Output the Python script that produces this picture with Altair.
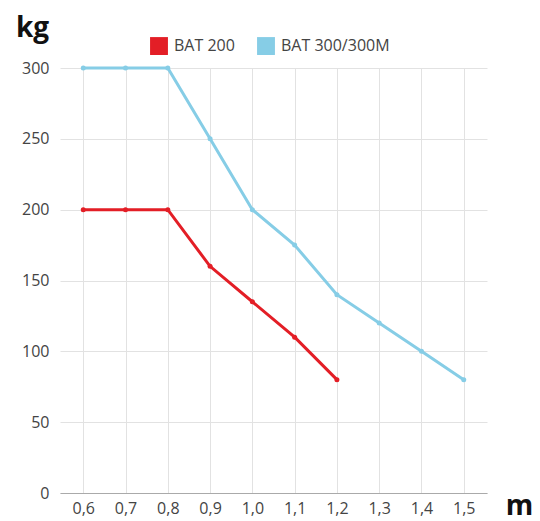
import altair as alt
import pandas as pd

x_labels = ["0,6", "0,7", "0,8", "0,9", "1,0", "1,1", "1,2", "1,3", "1,4", "1,5"]
series_names = ["BAT 200", "BAT 300/300M"]
bat200 = [200, 200, 200, 160, 135, 110, 80]
bat300 = [300, 300, 300, 250, 200, 175, 140, 120, 100, 80]
colors = ["#e31e26", "#86cde6"]

rows = []
for i, v in enumerate(bat200):
    rows.append({"x": x_labels[i], "kg": v, "serie": series_names[0]})
for i, v in enumerate(bat300):
    rows.append({"x": x_labels[i], "kg": v, "serie": series_names[1]})
df = pd.DataFrame(rows)

FONT = "Open Sans"

x_enc = alt.X(
    "x:O",
    sort=x_labels,
    scale=alt.Scale(type="point", padding=0.55),
    axis=alt.Axis(
        title="m",
        titleFontSize=28,
        titleFontWeight="bold",
        titleColor="#111",
        titleX=459,
        titleY=21,
        titleAlign="center",
        titleBaseline="alphabetic",
        labelAngle=0,
        labelFontSize=16,
        labelColor="#444",
        labelPadding=7,
        ticks=False,
        grid=True,
        gridColor="#e2e2e2",
        domain=True,
        domainColor="#aaaaaa",
        domainWidth=1,
    ),
)
y_enc = alt.Y(
    "kg:Q",
    scale=alt.Scale(domain=[0, 300], nice=False),
    axis=alt.Axis(
        title="kg",
        titleFontSize=28,
        titleFontWeight="bold",
        titleColor="#111",
        titleAngle=0,
        titleX=-28,
        titleY=-32,
        titleAlign="center",
        titleBaseline="alphabetic",
        values=[0, 50, 100, 150, 200, 250, 300],
        labelFontSize=16,
        labelColor="#444",
        labelPadding=11,
        ticks=False,
        grid=True,
        gridColor="#e2e2e2",
        domain=False,
    ),
)
color_enc = alt.Color(
    "serie:N",
    scale=alt.Scale(domain=series_names, range=colors),
    legend=alt.Legend(
        title=None,
        orient="none",
        legendX=90,
        legendY=-31,
        direction="horizontal",
        symbolType="square",
        symbolSize=320,
        symbolStrokeWidth=0,
        symbolOpacity=1,
        labelFontSize=16,
        labelColor="#444",
        labelOffset=6,
        columnPadding=22,
    ),
)

base = alt.Chart(df).encode(x=x_enc, y=y_enc, color=color_enc, detail="serie:N")
lines = base.mark_line(strokeWidth=3)
points = base.mark_circle(size=25, opacity=1)

chart = (
    alt.layer(lines, points)
    .properties(
        width=427,
        height=425,
        autosize=alt.AutoSizeParams(type="none"),
        padding={"left": 52, "top": 60, "right": 45, "bottom": 30},
    )
    .configure(font=FONT)
    .configure_view(stroke=None)
)

chart.save("out.html", embed_options={"renderer": "svg", "actions": False})
